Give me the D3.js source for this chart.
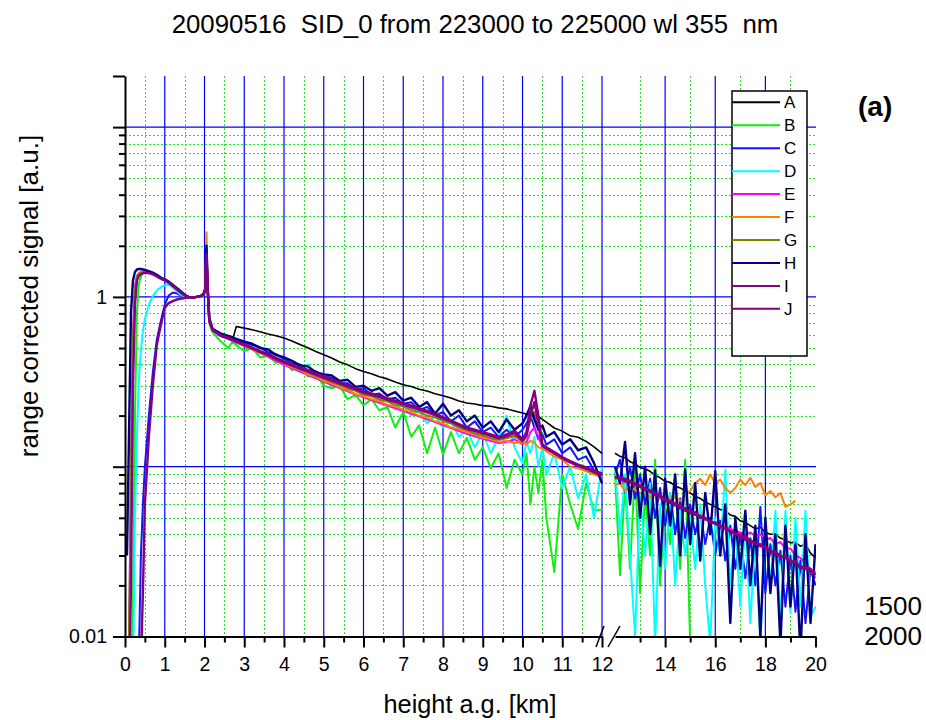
<!DOCTYPE html>
<html><head><meta charset="utf-8">
<script src="https://cdn.jsdelivr.net/npm/d3@7"></script>
<style>
body{margin:0;background:#fff}
svg{display:block}
text{font-family:"Liberation Sans",Arial,Helvetica,sans-serif;fill:#000}
</style>
</head><body>
<svg id="chart" width="926" height="720"></svg>
<script>
// ---------------- DATA ----------------
const seriesNames = ['A','B','C','D','E','F','G','H','I','J'];
const seriesColors = ['#000000','#11ee11','#1414ff','#00ffff','#ff00ff','#ff8000','#808000','#000080','#880088','#800080'];

// heights [km]
const heightsNear = [0.05,0.1,0.15,0.2,0.25,0.3,0.35,0.4,0.45,0.5,0.6,0.7,0.8,0.9,1.0,1.1,1.2,1.3,1.4,1.5,1.6,1.7,1.8,1.9,1.97,2.02,2.05,2.08,2.12,2.2];
const heightsMid = [2.4,2.6,2.7,2.8,3.0,3.2,3.4,3.6,3.8,4.0,4.2,4.4,4.6,4.8,5.0,5.2,5.4,5.6,5.8,6.0,6.2,6.4,6.6,6.8,7.0,7.2,7.4,7.6,7.8,8.0,8.2,8.4,8.6,8.8,9.0,9.2,9.4,9.6,9.8,10.0,10.1,10.2,10.3,10.4,10.5,10.6,10.8,11.0,11.2,11.4,11.6,11.8,12.0];
const heightsFar = [12.0,12.2,12.4,12.6,12.8,13.0,13.2,13.4,13.6,13.8,14.0,14.2,14.4,14.6,14.8,15.0,15.2,15.4,15.6,15.8,16.0,16.2,16.4,16.6,16.8,17.0,17.2,17.4,17.6,17.8,18.0,18.2,18.4,18.6,18.8,19.0,19.2,19.4,19.6,19.8,20.0];

// near range (0 - 2.2 km)
const A_near = [null,0.008,0.06,0.45,1.05,1.3,1.37,1.4,1.41,1.41,1.40,1.37,1.33,1.29,1.26,1.22,1.17,1.12,1.07,1.02,1.0,0.99,1.0,1.01,1.03,1.08,1.65,1.1,0.72,0.64];
const B_near = [null,null,0.004,0.015,0.2,0.8,1.2,1.32,1.37,1.39,1.39,1.36,1.32,1.28,1.25,1.21,1.16,1.11,1.06,1.02,1.0,0.99,1.0,1.01,1.02,1.07,1.6,1.05,0.7,0.62];
const C_near = [null,null,null,null,null,null,0.008,0.03,0.06,0.1,0.2,0.36,0.56,0.72,0.9,1.02,1.06,1.05,1.02,1.0,0.99,0.99,1.0,1.01,1.03,1.1,1.9,1.15,0.75,0.65];
const D_near = [null,null,null,0.005,0.05,0.15,0.33,0.48,0.63,0.74,0.9,1.01,1.09,1.14,1.17,1.18,1.14,1.08,1.03,1.0,0.99,0.99,1.0,1.01,1.03,1.08,1.7,1.1,0.72,0.63];
const E_near = [null,0.008,0.1,0.6,1.15,1.33,1.38,1.4,1.41,1.41,1.4,1.37,1.33,1.29,1.26,1.22,1.17,1.12,1.07,1.02,1.0,0.99,1.0,1.01,1.03,1.08,1.65,1.08,0.72,0.64];
const F_near = [null,0.006,0.04,0.35,0.95,1.3,1.38,1.4,1.41,1.41,1.4,1.37,1.33,1.29,1.26,1.22,1.17,1.12,1.07,1.02,1.0,0.99,1.0,1.01,1.03,1.12,2.4,1.2,0.74,0.64];
const G_near = [null,0.009,0.09,0.55,1.1,1.32,1.37,1.39,1.4,1.4,1.39,1.36,1.32,1.28,1.25,1.21,1.16,1.11,1.06,1.02,1.0,0.99,1.0,1.01,1.03,1.08,1.6,1.06,0.71,0.63];
const H_near = [0.03,0.15,0.8,1.25,1.4,1.45,1.46,1.46,1.45,1.44,1.42,1.39,1.35,1.3,1.27,1.23,1.18,1.13,1.08,1.03,1.0,0.99,1.0,1.01,1.04,1.12,2.0,1.15,0.75,0.65];
const I_near = [null,0.004,0.02,0.3,0.9,1.25,1.33,1.36,1.38,1.38,1.38,1.36,1.32,1.28,1.25,1.21,1.16,1.11,1.06,1.02,1.0,0.99,1.0,1.01,1.03,1.1,1.75,1.1,0.73,0.64];
const J_near = [null,null,null,null,null,null,null,0.007,0.018,0.06,0.15,0.3,0.52,0.68,0.86,0.92,0.945,0.965,0.975,0.985,0.99,0.995,1.0,1.01,1.03,1.1,1.8,1.12,0.74,0.64];

// middle range (2.4 - 12 km)
const A_mid = [0.6,0.575,0.553,0.67,0.655,0.64,0.623,0.605,0.59,0.573,0.55,0.524,0.502,0.477,0.457,0.437,0.414,0.398,0.378,0.364,0.353,0.339,0.329,0.315,0.304,0.297,0.286,0.279,0.269,0.262,0.254,0.244,0.237,0.234,0.229,0.227,0.222,0.219,0.213,0.207,0.204,0.211,0.201,0.198,0.19,0.183,0.169,0.162,0.152,0.149,0.141,0.131,0.12];
const B_mid = [0.55,0.5,0.545,0.52,0.48,0.5,0.44,0.45,0.41,0.42,0.37,0.39,0.34,0.35,0.3,0.29,0.3,0.25,0.265,0.23,0.25,0.215,0.225,0.17,0.21,0.15,0.175,0.12,0.17,0.118,0.16,0.12,0.148,0.11,0.13,0.098,0.12,0.075,0.11,0.09,0.12,0.06,0.1,0.07,0.11,0.05,0.024,0.09,0.06,0.043,0.08,0.055,0.056];
const C_mid = [0.6,0.585,0.57,0.56,0.54,0.52,0.505,0.47,0.46,0.43,0.405,0.4,0.37,0.365,0.34,0.335,0.31,0.31,0.285,0.29,0.265,0.27,0.25,0.255,0.235,0.24,0.215,0.225,0.2,0.21,0.185,0.2,0.17,0.185,0.16,0.17,0.15,0.165,0.15,0.165,0.18,0.2,0.17,0.145,0.155,0.135,0.145,0.12,0.13,0.11,0.115,0.095,0.09];
const D_mid = [0.6,0.58,0.565,0.545,0.52,0.5,0.47,0.46,0.425,0.42,0.39,0.38,0.4,0.34,0.335,0.3,0.31,0.28,0.285,0.26,0.27,0.24,0.25,0.22,0.23,0.2,0.215,0.18,0.2,0.17,0.185,0.15,0.165,0.13,0.16,0.12,0.15,0.2,0.13,0.105,0.14,0.12,0.15,0.1,0.13,0.09,0.12,0.075,0.1,0.065,0.09,0.05,0.1];
const E_mid = [0.59,0.565,0.552,0.538,0.513,0.49,0.466,0.444,0.42,0.398,0.38,0.363,0.347,0.332,0.317,0.303,0.29,0.278,0.266,0.256,0.247,0.238,0.229,0.221,0.213,0.205,0.198,0.19,0.183,0.176,0.169,0.162,0.156,0.151,0.146,0.142,0.138,0.14,0.145,0.136,0.14,0.16,0.17,0.15,0.13,0.126,0.12,0.113,0.107,0.102,0.098,0.094,0.09];
const F_mid = [0.6,0.57,0.555,0.545,0.52,0.49,0.472,0.445,0.43,0.405,0.385,0.372,0.35,0.338,0.32,0.31,0.293,0.283,0.268,0.26,0.25,0.243,0.232,0.226,0.216,0.21,0.2,0.195,0.185,0.18,0.17,0.166,0.16,0.155,0.148,0.146,0.14,0.142,0.138,0.14,0.135,0.142,0.138,0.13,0.128,0.123,0.115,0.11,0.1,0.098,0.094,0.09,0.087];
const G_mid = [0.6,0.572,0.56,0.545,0.522,0.497,0.476,0.452,0.432,0.408,0.392,0.372,0.36,0.342,0.33,0.314,0.304,0.289,0.28,0.266,0.26,0.249,0.243,0.232,0.227,0.216,0.21,0.2,0.195,0.186,0.18,0.17,0.164,0.157,0.153,0.147,0.144,0.147,0.152,0.14,0.15,0.19,0.21,0.17,0.132,0.128,0.12,0.113,0.107,0.101,0.097,0.092,0.089];
const H_mid = [0.61,0.59,0.58,0.565,0.545,0.53,0.5,0.49,0.455,0.44,0.42,0.395,0.39,0.36,0.35,0.345,0.32,0.325,0.295,0.3,0.28,0.29,0.262,0.275,0.245,0.255,0.225,0.24,0.205,0.235,0.2,0.215,0.185,0.2,0.17,0.185,0.16,0.19,0.165,0.18,0.2,0.228,0.19,0.165,0.175,0.15,0.16,0.135,0.145,0.125,0.13,0.105,0.08];
const I_mid = [0.59,0.57,0.558,0.545,0.52,0.498,0.474,0.453,0.43,0.41,0.394,0.378,0.363,0.349,0.334,0.321,0.308,0.296,0.285,0.273,0.265,0.257,0.248,0.24,0.232,0.224,0.217,0.209,0.201,0.192,0.184,0.175,0.167,0.162,0.157,0.152,0.147,0.151,0.158,0.142,0.152,0.2,0.24,0.18,0.133,0.128,0.12,0.112,0.106,0.101,0.097,0.093,0.089];
const J_mid = [0.595,0.575,0.563,0.55,0.527,0.503,0.48,0.46,0.437,0.417,0.40,0.385,0.37,0.355,0.34,0.327,0.314,0.301,0.29,0.278,0.27,0.262,0.253,0.245,0.237,0.229,0.221,0.213,0.205,0.196,0.187,0.178,0.17,0.165,0.16,0.155,0.15,0.155,0.163,0.145,0.16,0.23,0.28,0.2,0.135,0.13,0.122,0.114,0.108,0.103,0.099,0.095,0.091];

// far range (12 - 20 km, after the axis break)
const A_far = [0.12,0.115,0.113,0.107,0.104,0.099,0.097,0.094,0.089,0.086,0.082,0.081,0.077,0.075,0.072,0.07,0.067,0.065,0.062,0.06,0.058,0.056,0.055,0.052,0.051,0.048,0.047,0.045,0.043,0.044,0.041,0.04,0.04,0.038,0.037,0.0356,0.036,0.034,0.035,0.031,0.029];
const B_far = [0.09,0.023,0.08,0.025,0.1,0.018,0.07,0.03,0.11,0.02,0.06,0.035,0.09,0.025,0.11,0.009,null,null,null,null,null,null,null,null,null,null,null,null,null,null,null,null,null,null,null,null,null,null,null,null,null];
const C_far = [0.09,0.11,0.07,0.1,0.065,0.09,0.06,0.085,0.05,0.075,0.045,0.07,0.04,0.065,0.038,0.06,0.04,0.055,0.035,0.05,0.03,0.048,0.028,0.045,0.025,0.04,0.022,0.038,0.02,0.058,0.018,0.035,0.02,0.032,0.015,0.03,0.014,0.028,0.012,0.025,0.02];
const D_far = [0.1,0.04,0.09,0.03,0.01,0.07,0.03,0.08,0.009,0.06,0.025,0.07,0.02,0.055,0.03,0.05,0.025,0.06,0.02,0.009,0.05,0.03,0.096,0.02,0.045,0.015,0.05,0.012,0.04,0.009,0.045,0.02,0.055,0.012,0.055,0.014,0.05,0.015,0.055,0.013,0.015];
const E_far = [0.087,0.085,0.083,0.082,0.079,0.077,0.074,0.072,0.07,0.067,0.065,0.062,0.061,0.058,0.057,0.054,0.053,0.05,0.05,0.047,0.047,0.045,0.044,0.043,0.042,0.041,0.04,0.041,0.039,0.04,0.037,0.038,0.035,0.036,0.033,0.033,0.03,0.029,0.027,0.025,0.022];
const F_far = [0.078,0.08,0.072,0.076,0.073,0.07,0.073,0.066,0.07,0.065,0.068,0.064,0.066,0.063,0.067,0.072,0.08,0.085,0.078,0.09,0.08,0.084,0.075,0.07,0.075,0.084,0.078,0.086,0.076,0.08,0.068,0.072,0.066,0.07,0.058,0.06,0.063,null,null,null,null];
const G_far = [0.085,0.086,0.081,0.082,0.077,0.077,0.072,0.073,0.068,0.068,0.064,0.063,0.06,0.059,0.056,0.055,0.052,0.052,0.049,0.048,0.046,0.045,0.043,0.042,0.04,0.04,0.038,0.037,0.035,0.035,0.033,0.032,0.031,0.03,0.029,0.028,0.027,0.026,0.025,0.024,0.023];
const H_far = [0.1,0.08,0.14,0.06,0.12,0.05,0.1,0.04,0.095,0.026,0.085,0.045,0.09,0.03,0.096,0.035,0.08,0.028,0.07,0.04,0.094,0.03,0.06,0.012,0.05,0.025,0.055,0.02,0.045,0.01,0.05,0.018,0.04,0.009,0.045,0.015,0.035,0.008,0.04,0.012,0.035];
const I_far = [0.086,0.087,0.082,0.083,0.078,0.078,0.073,0.073,0.068,0.068,0.063,0.063,0.059,0.059,0.055,0.055,0.052,0.051,0.049,0.048,0.046,0.045,0.043,0.042,0.04,0.04,0.037,0.037,0.035,0.035,0.033,0.032,0.031,0.03,0.029,0.028,0.027,0.026,0.025,0.025,0.023];
const J_far = [0.088,0.084,0.085,0.081,0.08,0.076,0.075,0.071,0.07,0.066,0.065,0.061,0.061,0.057,0.057,0.053,0.054,0.05,0.05,0.047,0.047,0.044,0.044,0.041,0.041,0.038,0.039,0.036,0.036,0.034,0.034,0.031,0.032,0.029,0.03,0.027,0.028,0.025,0.026,0.024,0.024];

// ticks
const xMajorLeft = [0,1,2,3,4,5,6,7,8,9,10,11,12];
const xMinorLeft = [0.5,1.5,2.5,3.5,4.5,5.5,6.5,7.5,8.5,9.5,10.5,11.5];
const xMajorRight = [14,16,18,20];
const xMinorRight = [13,15,17,19];
const yMajor = [0.01,0.1,1,10,20];
const yLabelled = {0.01:'0.01', 1:'1'};
const yMinor = [0.02,0.03,0.04,0.05,0.06,0.07,0.08,0.09,0.2,0.3,0.4,0.5,0.6,0.7,0.8,0.9,2,3,4,5,6,7,8,9];
const yGridMajor = [0.1,1,10];
const sideLabels = ['1500','2000'];

const titleText = '20090516  SID_0 from 223000 to 225000 wl 355  nm';
const xTitle = 'height a.g. [km]';
const yTitle = 'range corrected signal [a.u.]';
const panelTag = '(a)';

// ---------------- CHART ----------------
const nearArr = [A_near,B_near,C_near,D_near,E_near,F_near,G_near,H_near,I_near,J_near];
const midArr  = [A_mid,B_mid,C_mid,D_mid,E_mid,F_mid,G_mid,H_mid,I_mid,J_mid];
const farArr  = [A_far,B_far,C_far,D_far,E_far,F_far,G_far,H_far,I_far,J_far];
const widths  = [1.6,2,2,2,2,2,2,2.4,2.4,2.4];
const heightsLeft = heightsNear.concat(heightsMid);
const series = seriesNames.map((n,i) => ({
  name:n, color:seriesColors[i], width:widths[i],
  left: heightsLeft.map((h,j) => [h, nearArr[i].concat(midArr[i])[j]]),
  right: heightsFar.map((h,j) => [h, farArr[i][j]])
}));

const svg = d3.select('#chart');
svg.append('rect').attr('width',926).attr('height',720).attr('fill','#fff');

const xL = d3.scaleLinear().domain([0,12]).range([125,602]);
const xR = d3.scaleLinear().domain([12,20]).range([615,815.5]);
const y  = d3.scaleLog().domain([0.01,20]).range([636.5,76]);
const plotLeft = 125, plotRight = 816, plotTop = 76, plotBottom = 636.5;
const px = v => Math.round(v) + 0.5;

const defs = svg.append('defs');
defs.append('clipPath').attr('id','clipL').append('rect')
  .attr('x',plotLeft).attr('y',plotTop).attr('width',603-plotLeft).attr('height',plotBottom-plotTop);
defs.append('clipPath').attr('id','clipR').append('rect')
  .attr('x',614).attr('y',plotTop).attr('width',plotRight-614).attr('height',plotBottom-plotTop);

// grid
const grid = svg.append('g');
const GREEN = '#22e622', BLUE = '#0000ff';
yMinor.forEach(v => grid.append('line')
  .attr('x1',plotLeft).attr('x2',plotRight).attr('y1',px(y(v))).attr('y2',px(y(v)))
  .attr('stroke',GREEN).attr('stroke-width',1).attr('stroke-dasharray','2,2'));
xMinorLeft.forEach(v => grid.append('line')
  .attr('x1',px(xL(v))).attr('x2',px(xL(v))).attr('y1',plotTop).attr('y2',plotBottom)
  .attr('stroke',GREEN).attr('stroke-width',1).attr('stroke-dasharray','2,2'));
xMinorRight.forEach(v => grid.append('line')
  .attr('x1',px(xR(v))).attr('x2',px(xR(v))).attr('y1',plotTop).attr('y2',plotBottom)
  .attr('stroke',GREEN).attr('stroke-width',1).attr('stroke-dasharray','2,2'));
yGridMajor.forEach(v => grid.append('line')
  .attr('x1',plotLeft).attr('x2',plotRight).attr('y1',y(v)).attr('y2',y(v))
  .attr('stroke',BLUE).attr('stroke-width',1.3));
xMajorLeft.filter(v => v > 0).forEach(v => grid.append('line')
  .attr('x1',xL(v)).attr('x2',xL(v)).attr('y1',plotTop).attr('y2',plotBottom)
  .attr('stroke',BLUE).attr('stroke-width',1.2));
xMajorRight.filter(v => v < 20).forEach(v => grid.append('line')
  .attr('x1',xR(v)).attr('x2',xR(v)).attr('y1',plotTop).attr('y2',plotBottom)
  .attr('stroke',BLUE).attr('stroke-width',1.2));

// lines
const lineL = d3.line().defined(d => d[1] != null).x(d => xL(d[0])).y(d => y(d[1]));
const lineR = d3.line().defined(d => d[1] != null).x(d => xR(d[0])).y(d => y(d[1]));
const gL = svg.append('g').attr('clip-path','url(#clipL)');
const gR = svg.append('g').attr('clip-path','url(#clipR)');
series.forEach(s => {
  gL.append('path').datum(s.left).attr('d',lineL).attr('fill','none')
    .attr('stroke',s.color).attr('stroke-width',s.width).attr('stroke-linejoin','round');
  gR.append('path').datum(s.right).attr('d',lineR).attr('fill','none')
    .attr('stroke',s.color).attr('stroke-width',s.width).attr('stroke-linejoin','round');
});

// axes
function styleAxis(g){
  g.selectAll('path.domain').attr('stroke','#000').attr('stroke-width',2);
  g.selectAll('.tick line').attr('stroke','#000').attr('stroke-width',2);
  g.selectAll('.tick text').attr('font-size',19.5).attr('font-family','"Liberation Sans",Arial,sans-serif').attr('fill','#000');
}
const yAxisMinor = svg.append('g').attr('transform',`translate(${plotLeft},0)`)
  .call(d3.axisLeft(y).tickValues(yMinor).tickSize(6).tickSizeOuter(0).tickFormat(''));
styleAxis(yAxisMinor);
yAxisMinor.select('path.domain').remove();
const yAxisMajor = svg.append('g').attr('transform',`translate(${plotLeft},0)`)
  .call(d3.axisLeft(y).tickValues(yMajor).tickSize(12).tickSizeOuter(0).tickPadding(6)
    .tickFormat(v => yLabelled[v] || ''));
styleAxis(yAxisMajor);

const xAxisLMinor = svg.append('g').attr('transform',`translate(0,${plotBottom})`)
  .call(d3.axisBottom(xL).tickValues(xMinorLeft).tickSize(6).tickSizeOuter(0).tickFormat(''));
styleAxis(xAxisLMinor); xAxisLMinor.select('path.domain').remove();
const xAxisL = svg.append('g').attr('transform',`translate(0,${plotBottom})`)
  .call(d3.axisBottom(xL).tickValues(xMajorLeft).tickSize(11).tickSizeOuter(0).tickPadding(10).tickFormat(d3.format('d')));
styleAxis(xAxisL);
const xAxisRMinor = svg.append('g').attr('transform',`translate(0,${plotBottom})`)
  .call(d3.axisBottom(xR).tickValues(xMinorRight).tickSize(6).tickSizeOuter(0).tickFormat(''));
styleAxis(xAxisRMinor); xAxisRMinor.select('path.domain').remove();
const xAxisR = svg.append('g').attr('transform',`translate(0,${plotBottom})`)
  .call(d3.axisBottom(xR).tickValues(xMajorRight).tickSize(11).tickSizeOuter(0).tickPadding(10).tickFormat(d3.format('d')));
styleAxis(xAxisR);

// axis break marks
[[596,647,604,626],[608,647,620,626]].forEach(b => svg.append('line')
  .attr('x1',b[0]).attr('y1',b[1]).attr('x2',b[2]).attr('y2',b[3])
  .attr('stroke','#000').attr('stroke-width',1.5));

// legend
const lg = svg.append('g');
lg.append('rect').attr('x',732).attr('y',91).attr('width',75).attr('height',265)
  .attr('fill','#fff').attr('stroke','#000').attr('stroke-width',1.5);
series.forEach((s,i) => {
  const yy = 102.3 + i*22.95;
  lg.append('line').attr('x1',732).attr('x2',780).attr('y1',yy).attr('y2',yy)
    .attr('stroke',s.color).attr('stroke-width',2);
  lg.append('text').attr('x',784).attr('y',yy+6).attr('font-size',17).text(s.name);
});

// texts
svg.append('text').attr('x',475).attr('y',33).attr('text-anchor','middle').attr('font-size',25.8)
  .attr('xml:space','preserve').style('white-space','pre').text(titleText);
svg.append('text').attr('x',470).attr('y',712.5).attr('text-anchor','middle').attr('font-size',25.3).text(xTitle);
svg.append('text').attr('transform','translate(38,296) rotate(-90)').attr('text-anchor','middle').attr('font-size',26).text(yTitle);
svg.append('text').attr('x',858).attr('y',116).attr('font-size',28).attr('font-weight','bold').text(panelTag);
sideLabels.forEach((t,i) => svg.append('text').attr('x',922).attr('y',615 + i*30)
  .attr('text-anchor','end').attr('font-size',26).text(t));
</script>
</body></html>
